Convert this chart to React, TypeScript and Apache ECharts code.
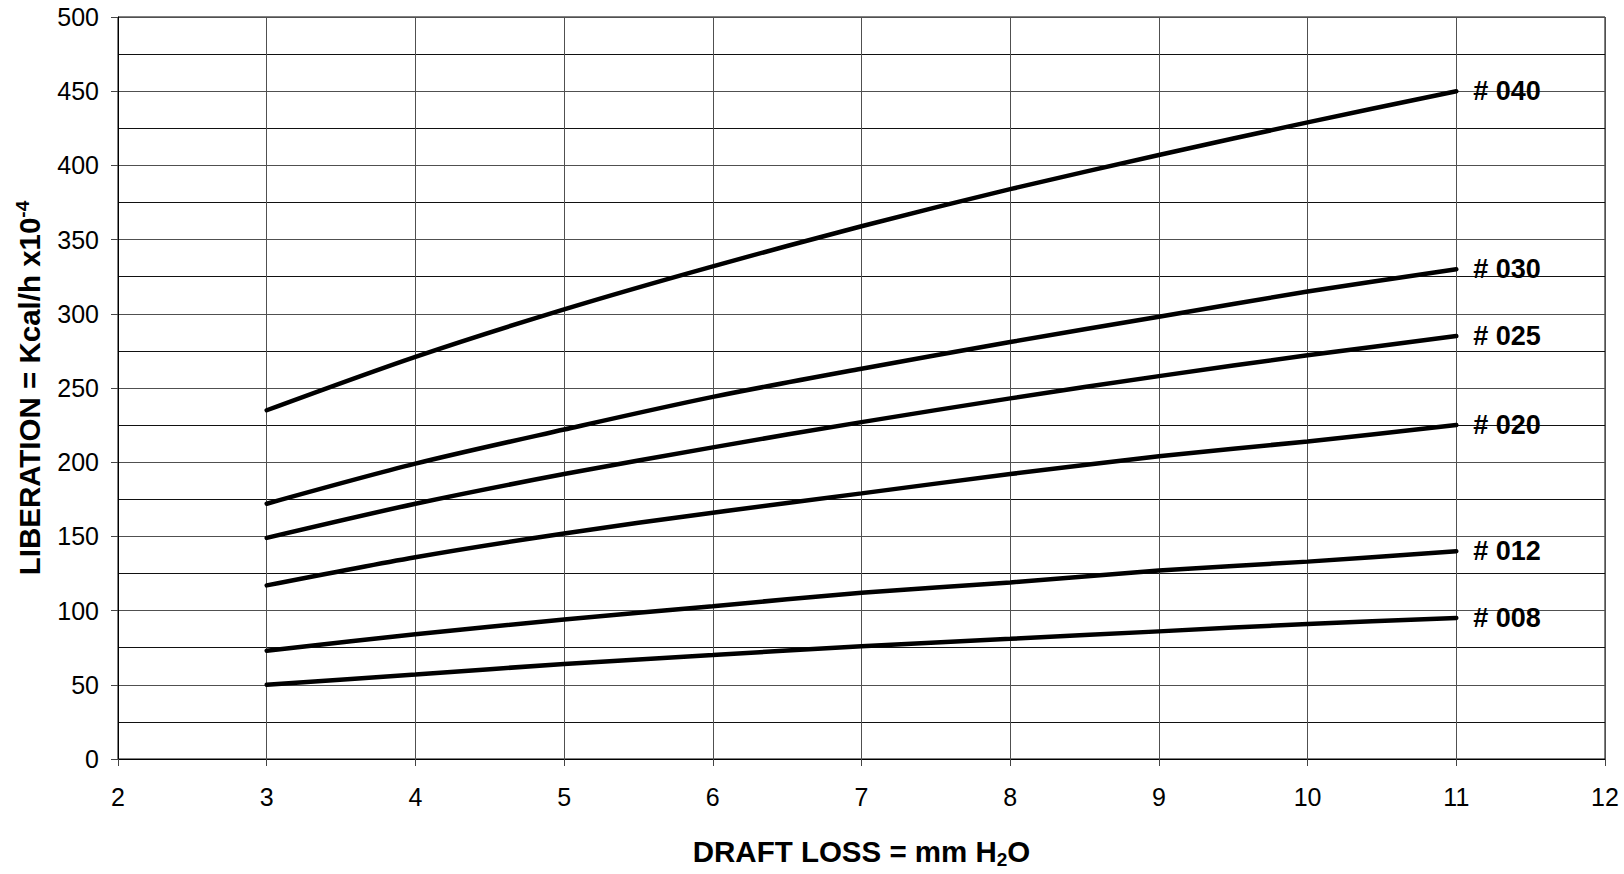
import React, { useEffect, useRef } from "react";
import * as echarts from "echarts";

const xValues = [3, 4, 5, 6, 7, 8, 9, 10, 11];
const seriesNames = ["# 040", "# 030", "# 025", "# 020", "# 012", "# 008"];
const s040 = [235, 271, 303, 332, 359, 384, 407, 429, 450];
const s030 = [172, 199, 222, 244, 263, 281, 298, 315, 330];
const s025 = [149, 172, 192, 210, 227, 243, 258, 272, 285];
const s020 = [117, 136, 152, 166, 179, 192, 204, 214, 225];
const s012 = [73, 84, 94, 103, 112, 119, 127, 133, 140];
const s008 = [50, 57, 64, 70, 76, 81, 86, 91, 95];
const allSeries = [s040, s030, s025, s020, s012, s008];

const FONT = "'Liberation Sans', Arial, Helvetica, sans-serif";

export default function App() {
  const ref = useRef<HTMLDivElement>(null);
  useEffect(() => {
    if (!ref.current) return;
    const chart = echarts.init(ref.current, undefined, { renderer: "svg" });
    chart.setOption({
      animation: false,
      backgroundColor: "#fff",
      textStyle: { fontFamily: FONT },
      grid: {
        left: 118,
        right: 19,
        top: 17,
        bottom: 104,
        show: true,
        borderColor: "#000",
        borderWidth: 1,
      },
      xAxis: {
        type: "value",
        min: 2,
        max: 12,
        interval: 1,
        axisLine: { show: true, onZero: false, lineStyle: { color: "#000", width: 1 } },
        axisTick: { show: true, length: 7, lineStyle: { color: "#444" } },
        axisLabel: { color: "#000", fontSize: 25, margin: 25, fontFamily: FONT },
        splitLine: { show: true, lineStyle: { color: "#505050", width: 1 } },
        name: "{a|DRAFT LOSS = mm H}{s|2}{a|O}",
        nameLocation: "middle",
        nameGap: 75,
        nameTextStyle: {
          rich: {
            a: { fontSize: 29.5, fontWeight: "bold", color: "#000", fontFamily: FONT },
            s: {
              fontSize: 19,
              fontWeight: "bold",
              color: "#000",
              fontFamily: FONT,
              verticalAlign: "bottom",
              padding: [16, 0, 0, 0],
            },
          },
        },
      },
      yAxis: {
        type: "value",
        min: 0,
        max: 500,
        interval: 50,
        axisLine: { show: true, lineStyle: { color: "#000", width: 1 } },
        axisTick: { show: true, length: 7, lineStyle: { color: "#444" } },
        axisLabel: { color: "#000", fontSize: 25, margin: 19, fontFamily: FONT },
        splitLine: { show: true, lineStyle: { color: "#505050", width: 1 } },
        minorTick: { show: false, splitNumber: 2 },
        minorSplitLine: { show: true, lineStyle: { color: "#111", width: 1 } },
        name: "{a|LIBERATION = Kcal/h x10}{s|-4}",
        nameLocation: "middle",
        nameRotate: 90,
        nameGap: 72,
        nameTextStyle: {
          rich: {
            a: { fontSize: 29.5, fontWeight: "bold", color: "#000", fontFamily: FONT },
            s: {
              fontSize: 19,
              fontWeight: "bold",
              color: "#000",
              fontFamily: FONT,
              verticalAlign: "top",
              padding: [0, 0, 14, 0],
            },
          },
        },
      },
      series: allSeries.map((vals, i) => ({
        type: "line",
        name: seriesNames[i],
        data: vals.map((v, j) => [xValues[j], v]),
        smooth: 0.3,
        showSymbol: false,
        symbol: "none",
        lineStyle: { color: "#000", width: 4.5, cap: "round" },
        endLabel: {
          show: true,
          formatter: seriesNames[i],
          distance: 17,
          color: "#000",
          fontSize: 27,
          fontWeight: "bold",
          fontFamily: FONT,
        },
        z: 3,
      })),
    });
    return () => chart.dispose();
  }, []);
  return (
    <div
      ref={ref}
      style={{ position: "fixed", left: 0, top: 0, width: 1624, height: 874, background: "#fff" }}
    />
  );
}
